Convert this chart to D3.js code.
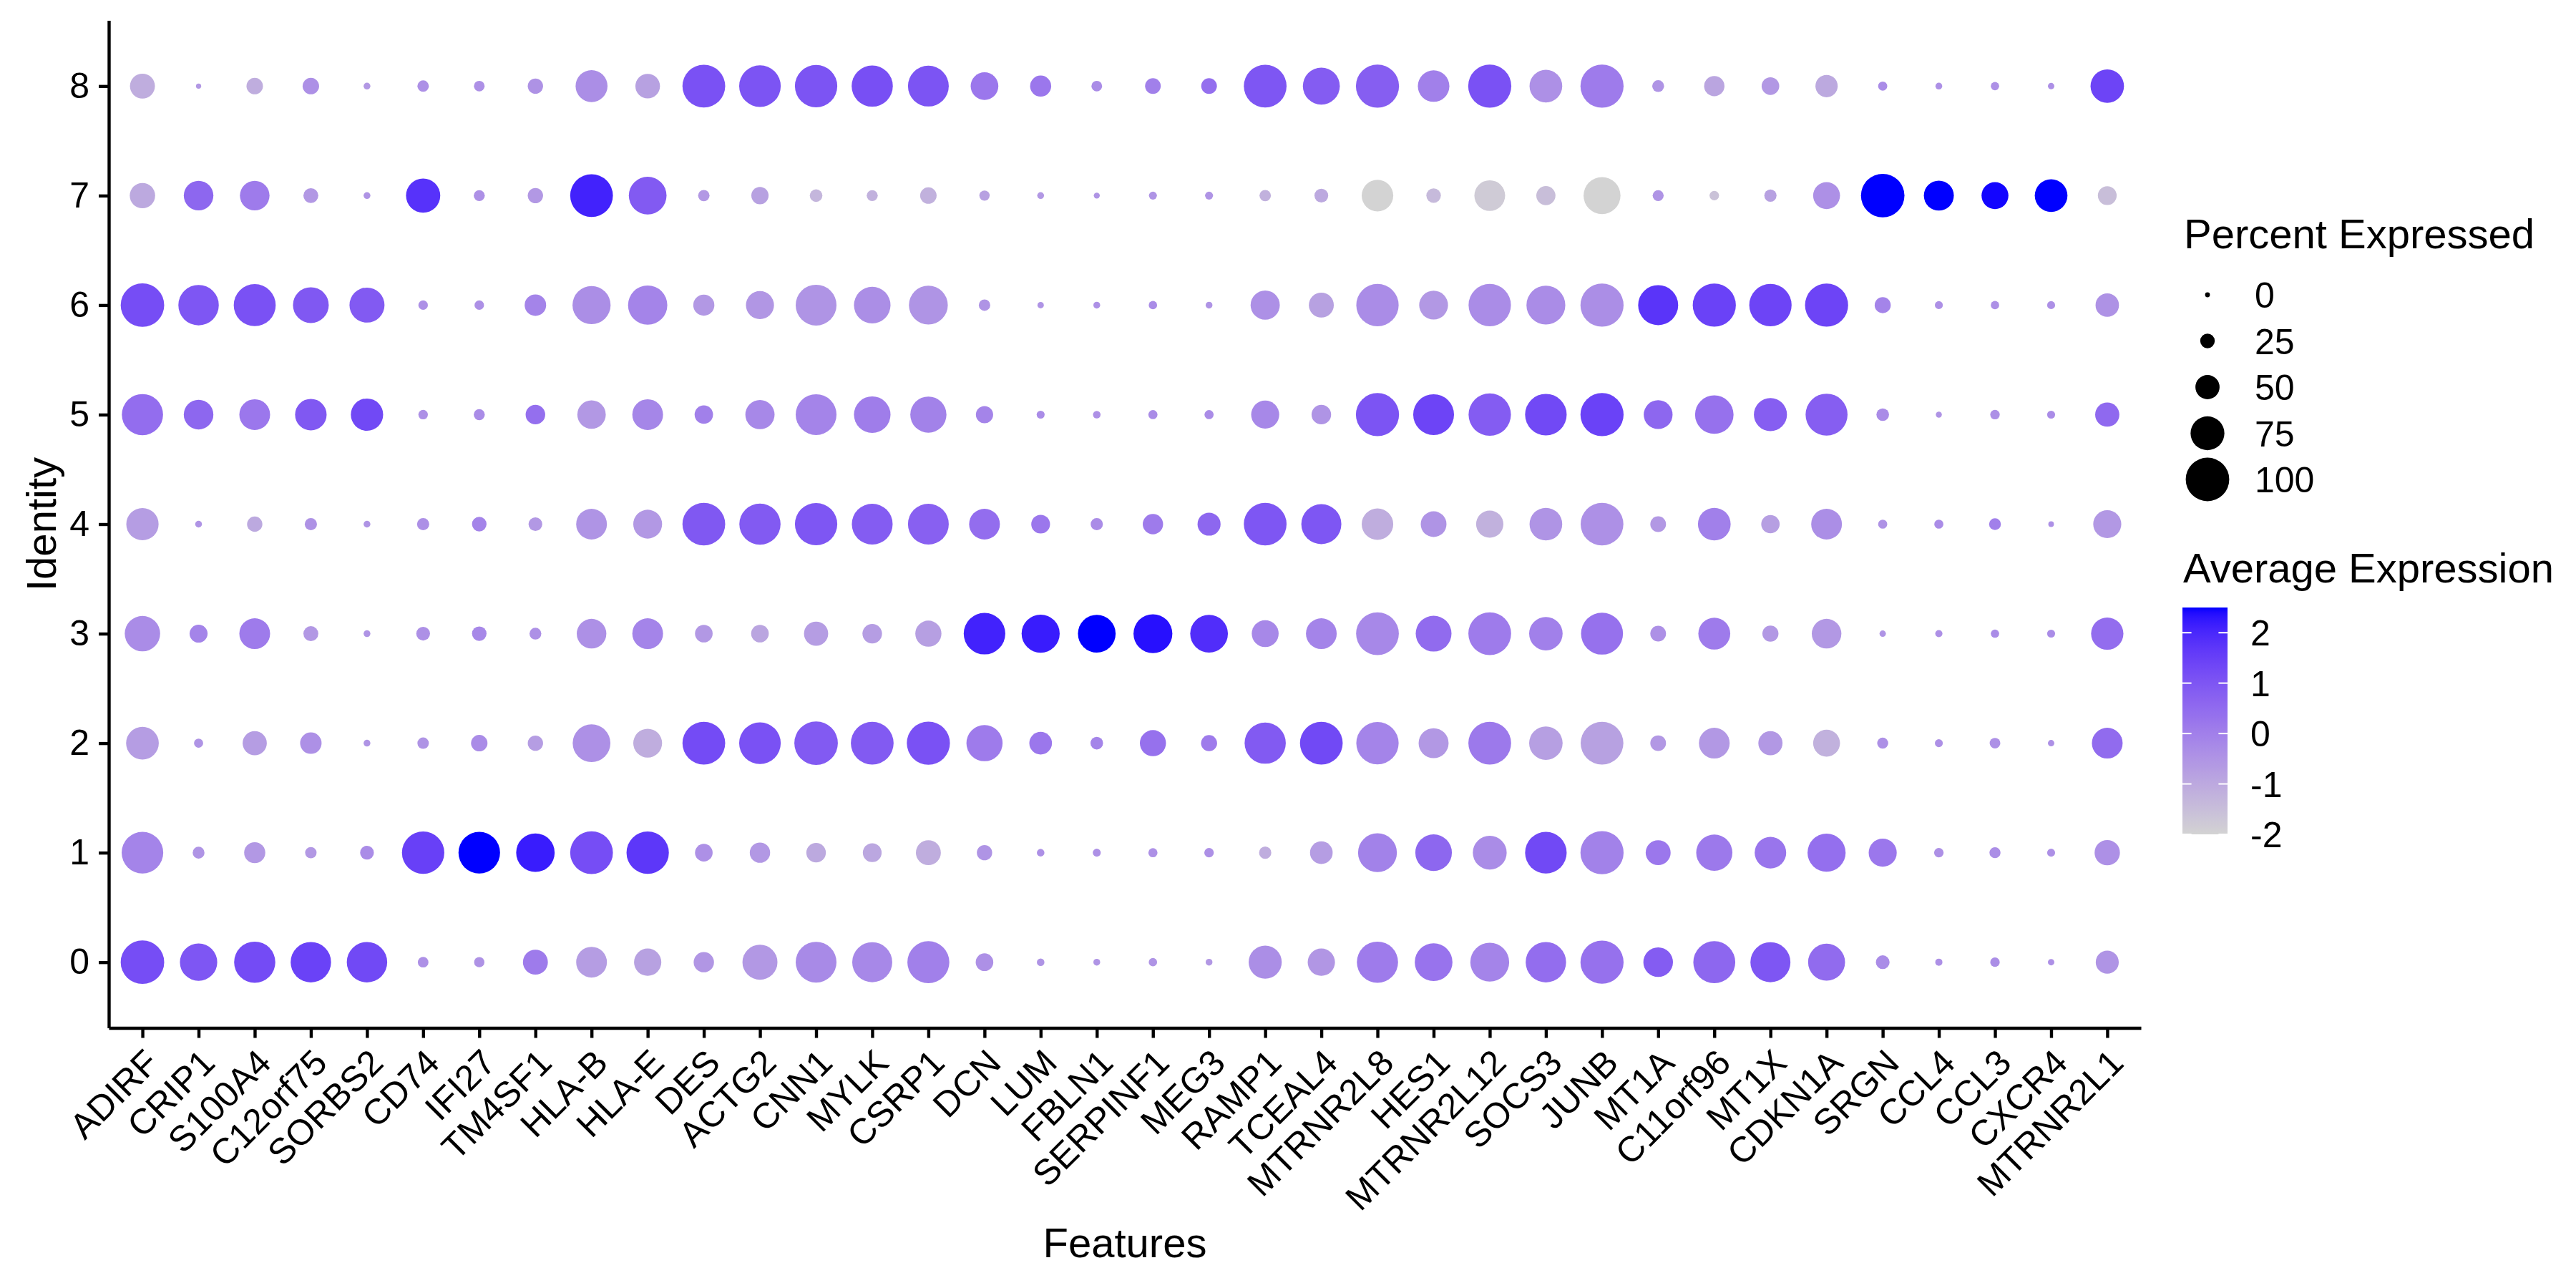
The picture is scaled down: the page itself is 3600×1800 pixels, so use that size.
<!DOCTYPE html>
<html>
<head>
<meta charset="utf-8">
<script src="https://cdn.jsdelivr.net/npm/d3@7"></script>
<style>
  body { margin: 0; background: #fff; }
  text { font-family: "Liberation Sans", Arial, Helvetica, sans-serif; fill: #000; }
</style>
</head>
<body>
<div id="container"></div>
<script>
/* CONSTANTS AND GLOBALS */
const width = 3600,
      height = 1800,
      panel = {left: 152, right: 2992, top: 28.5, bottom: 1436.5},
      lineW = 4.4;

// genes on the x axis, clusters on the y axis
const features = ["ADIRF","CRIP1","S100A4","C12orf75","SORBS2","CD74","IFI27","TM4SF1","HLA-B","HLA-E",
  "DES","ACTG2","CNN1","MYLK","CSRP1","DCN","LUM","FBLN1","SERPINF1","MEG3","RAMP1","TCEAL4",
  "MTRNR2L8","HES1","MTRNR2L12","SOCS3","JUNB","MT1A","C11orf96","MT1X","CDKN1A","SRGN","CCL4",
  "CCL3","CXCR4","MTRNR2L1"];
const identities = ["0","1","2","3","4","5","6","7","8"];

// percent expressed, one row per identity (0..8), in feature order
const pctExpressed = [
  [100,84,94,92,92,15,14,52,67,58,40,78, 93,91,96,33,7,5,9,5,73,58,94,85, 88,92,99,64,96,91,83,23,6,12,4,47],
  [95,18,42,17,23,97,95,87,98,97,33,40, 38,36,52,27,7,8,11,12,19,46,88,82, 75,95,99,52,81,69,86,60,12,16,8,53],
  [72,11,50,43,5,17,30,27,85,62,98,95, 100,98,99,81,46,20,55,29,94,98,97,65, 98,74,98,28,67,50,57,16,8,15,4,67],
  [79,34,67,26,5,23,25,18,64,67,33,33, 50,38,55,95,86,85,88,85,57,67,98,80, 98,74,96,28,70,29,64,4,6,9,8,71],
  [71,5,27,19,5,19,25,23,67,62,98,94, 97,93,93,67,36,19,40,47,98,91,69,54, 58,72,98,28,72,35,67,11,11,18,2,60],
  [94,64,67,69,71,12,16,38,61,67,35,63, 93,82,81,32,8,7,11,11,60,38,99,93, 97,95,99,62,87,73,96,20,3,12,8,50],
  [100,92,96,80,78,12,12,43,86,89,42,60, 93,82,88,17,4,5,9,5,63,52,97,62, 97,88,99,91,99,97,99,29,8,9,8,48],
  [53,64,64,26,5,76,16,27,98,85,17,32, 20,16,30,14,5,3,8,8,17,23,69,25, 67,37,83,16,12,19,57,100,65,57,72,36],
  [52,1,30,30,5,17,15,27,70,51,98,95, 97,94,93,59,42,15,28,28,98,83,99,69, 99,72,99,18,40,33,45,11,5,9,4,74]
];

// scaled average expression, same layout
const avgExpression = [
  [1.2,1.0,1.25,1.45,1.3,-0.4,-0.45,0.1,-0.7,-0.8,-0.55,-0.6, -0.25,-0.2,0.0,-0.4,-0.5,-0.5,-0.5,-0.6,-0.35,-0.55,0.1,0.3, -0.1,0.45,0.35,0.85,0.6,1.0,0.5,-0.3,-0.4,-0.35,-0.4,-0.5],
  [-0.1,-0.5,-0.6,-0.6,-0.3,1.5,2.5,2.2,1.2,1.7,-0.4,-0.6, -1.0,-0.95,-1.1,-0.5,-0.4,-0.4,-0.4,-0.4,-1.1,-0.7,-0.05,0.6, -0.3,1.3,-0.05,0.2,0.15,0.25,0.4,0.2,-0.4,-0.35,-0.4,-0.4],
  [-0.7,-0.5,-0.7,-0.4,-0.5,-0.5,-0.3,-0.7,-0.4,-1.1,1.25,1.1, 0.9,0.9,1.1,0.1,0.2,-0.1,0.35,0.1,0.9,1.3,-0.1,-0.6, 0.15,-0.75,-0.8,-0.6,-0.6,-0.6,-1.2,-0.4,-0.4,-0.4,-0.4,0.5],
  [-0.3,-0.1,0.1,-0.6,-0.5,-0.4,-0.2,-0.4,-0.4,-0.1,-0.6,-0.9, -0.7,-0.7,-0.75,2.1,2.2,2.5,2.35,1.9,-0.2,-0.1,-0.2,0.5, 0.1,0.0,0.35,-0.4,0.1,-0.6,-0.6,-0.5,-0.4,-0.3,-0.3,0.45],
  [-0.7,-0.5,-1.0,-0.45,-0.5,-0.4,-0.1,-0.6,-0.5,-0.6,0.95,0.9, 1.0,0.85,0.75,0.45,0.2,-0.3,0.1,0.6,1.0,1.0,-1.1,-0.5, -1.2,-0.5,-0.4,-0.6,0.0,-0.75,-0.35,-0.45,-0.3,0.0,-0.4,-0.6],
  [0.45,0.6,0.2,0.95,1.3,-0.4,-0.3,0.4,-0.6,-0.15,0.0,-0.2, -0.1,0.05,-0.05,-0.1,-0.3,-0.4,-0.3,-0.3,-0.2,-0.5,1.05,1.4, 0.85,1.3,1.45,0.6,0.35,0.8,0.8,-0.3,-0.5,-0.4,-0.3,0.55],
  [1.2,1.0,1.1,0.95,0.9,-0.4,-0.4,-0.1,-0.35,-0.1,-0.6,-0.55, -0.5,-0.35,-0.5,-0.5,-0.5,-0.4,-0.3,-0.5,-0.4,-0.8,-0.3,-0.6, -0.3,-0.3,-0.35,1.75,1.45,1.4,1.4,-0.1,-0.4,-0.4,-0.4,-0.45],
  [-1.0,0.6,0.1,-0.6,-0.5,1.8,-0.4,-0.6,2.1,0.9,-0.6,-0.8, -1.3,-1.2,-1.2,-0.8,-0.6,-0.5,-0.5,-0.5,-1.2,-1.0,-2.0,-1.4, -1.8,-1.5,-2.0,-0.5,-1.6,-0.8,-0.4,2.5,2.5,2.45,2.5,-1.5],
  [-1.1,-0.6,-1.1,-0.4,-0.6,-0.4,-0.4,-0.45,-0.35,-0.8,1.1,1.05, 1.05,1.15,1.05,0.2,0.2,-0.3,0.0,0.4,1.0,0.85,0.8,0.0, 1.1,-0.4,0.1,-0.5,-0.9,-0.6,-1.0,-0.3,-0.4,-0.4,-0.4,1.4]
];

// legend breaks
const sizeBreaks = [0, 25, 50, 75, 100];
const colorBreaks = [-2, -1, 0, 1, 2];

/* FLATTEN DATA */
const data = [];
identities.forEach((id, r) => {
  features.forEach((f, c) => {
    data.push({id: id, feature: f, pct: pctExpressed[r][c], avg: avgExpression[r][c]});
  });
});

/* SCALES */
const xScale = d3.scalePoint()
  .domain(features)
  .range([panel.left, panel.right])
  .padding(0.6);

const yScale = d3.scalePoint()
  .domain(identities)
  .range([panel.bottom, panel.top])
  .padding(0.6);

const rScale = d3.scaleLinear()
  .domain([0, 100])
  .range([3.4, 30.4]);

const colorScale = d3.scaleLinear()
  .domain(d3.extent(data, d => d.avg))
  .range(["lightgrey", "blue"])
  .interpolate(d3.interpolateLab);

/* SVG */
const svg = d3.select("#container").append("svg")
  .attr("width", width)
  .attr("height", height);

// + DOTS
svg.append("g")
  .selectAll("circle.dot")
  .data(data)
  .join("circle")
    .attr("class", "dot")
    .attr("cx", d => xScale(d.feature))
    .attr("cy", d => yScale(d.id))
    .attr("r", d => rScale(d.pct))
    .attr("fill", d => colorScale(d.avg));

// + AXES
const xAxis = d3.axisBottom(xScale).tickSize(14).tickSizeOuter(0);
const yAxis = d3.axisLeft(yScale).tickSize(14).tickSizeOuter(0).tickPadding(13);

const xAxisGroup = svg.append("g")
  .attr("transform", `translate(0,${panel.bottom})`)
  .call(xAxis);

xAxisGroup.selectAll("text")
  .attr("x", 0)
  .attr("y", 0)
  .attr("dy", "0.71em")
  .attr("text-anchor", "end")
  .attr("transform", "translate(0,26.5) rotate(-45)")
  .attr("font-size", "50px");

const yAxisGroup = svg.append("g")
  .attr("transform", `translate(${panel.left},0)`)
  .call(yAxis);

yAxisGroup.selectAll("text").attr("font-size", "50px");

svg.selectAll(".domain, .tick line")
  .attr("stroke", "#000")
  .attr("stroke-width", lineW);

// axis titles
svg.append("text")
  .attr("x", (panel.left + panel.right) / 2)
  .attr("y", 1757)
  .attr("text-anchor", "middle")
  .attr("font-size", "58px")
  .text("Features");

svg.append("text")
  .attr("transform", `translate(78,${(panel.top + panel.bottom) / 2}) rotate(-90)`)
  .attr("text-anchor", "middle")
  .attr("font-size", "58px")
  .text("Identity");

/* LEGENDS */
const legend = svg.append("g");
const legX = 3050;

// size legend
legend.append("text")
  .attr("x", legX + 2)
  .attr("y", 347)
  .attr("font-size", "58px")
  .text("Percent Expressed");

const sizeKeys = legend.selectAll("g.sizekey")
  .data(sizeBreaks)
  .join("g")
    .attr("class", "sizekey")
    .attr("transform", (d, i) => `translate(0,${412 + i * 64.5})`);

sizeKeys.append("circle")
  .attr("cx", legX + 35)
  .attr("r", d => rScale(d))
  .attr("fill", "#000");

sizeKeys.append("text")
  .attr("x", legX + 101)
  .attr("dy", "0.36em")
  .attr("font-size", "50px")
  .text(d => d);

// colour legend
legend.append("text")
  .attr("x", legX + 1)
  .attr("y", 814)
  .attr("font-size", "58px")
  .text("Average Expression");

const barTop = 849, barBottom = 1166, barW = 63;
const barScale = d3.scaleLinear()
  .domain(colorScale.domain())
  .range([barBottom, barTop]);

const grad = svg.append("defs").append("linearGradient")
  .attr("id", "avgGrad")
  .attr("x1", 0).attr("y1", 1).attr("x2", 0).attr("y2", 0);

grad.selectAll("stop")
  .data(d3.range(0, 1.0001, 0.02))
  .join("stop")
    .attr("offset", d => d)
    .attr("stop-color", d => colorScale(colorScale.domain()[0] + d * (colorScale.domain()[1] - colorScale.domain()[0])));

legend.append("rect")
  .attr("x", legX)
  .attr("y", barTop)
  .attr("width", barW)
  .attr("height", barBottom - barTop)
  .attr("fill", "url(#avgGrad)");

const colorKeys = legend.selectAll("g.colorkey")
  .data(colorBreaks)
  .join("g")
    .attr("class", "colorkey")
    .attr("transform", d => `translate(0,${barScale(d)})`);

colorKeys.append("line")
  .attr("x1", legX).attr("x2", legX + barW / 5)
  .attr("stroke", "#fff").attr("stroke-width", 2);

colorKeys.append("line")
  .attr("x1", legX + barW - barW / 5).attr("x2", legX + barW)
  .attr("stroke", "#fff").attr("stroke-width", 2);

colorKeys.append("text")
  .attr("x", legX + 95)
  .attr("dy", "0.36em")
  .attr("font-size", "50px")
  .text(d => d);
</script>
</body>
</html>
